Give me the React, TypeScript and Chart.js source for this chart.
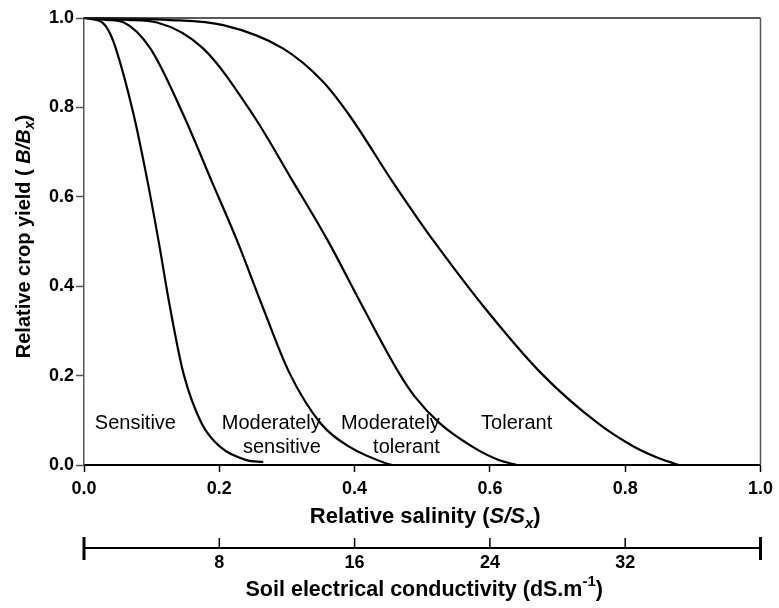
import React, { useEffect, useRef } from "react";
import { Chart, registerables } from "chart.js";

Chart.register(...registerables);

// ---- Data ----
const sensitiveX = [0, 0.01, 0.027, 0.037, 0.047, 0.0735, 0.094, 0.11, 0.127, 0.147, 0.174, 0.201, 0.24, 0.265];
const sensitiveY = [1, 0.998, 0.99, 0.97, 0.932, 0.783, 0.634, 0.503, 0.354, 0.205, 0.093, 0.041, 0.011, 0.007];

const modSensitiveX = [0, 0.034, 0.059, 0.098, 0.147, 0.189, 0.226, 0.264, 0.304, 0.35, 0.392, 0.446, 0.456];
const modSensitiveY = [1, 0.996, 0.99, 0.932, 0.783, 0.634, 0.503, 0.354, 0.205, 0.093, 0.041, 0.004, 0];

const modTolerantX = [0, 0.064, 0.108, 0.176, 0.25, 0.309, 0.36, 0.412, 0.466, 0.489, 0.526, 0.574, 0.613, 0.64];
const modTolerantY = [1, 0.996, 0.99, 0.932, 0.783, 0.634, 0.503, 0.354, 0.205, 0.153, 0.093, 0.041, 0.011, 0];

const tolerantX = [0, 0.123, 0.206, 0.294, 0.353, 0.392, 0.456, 0.493, 0.516, 0.591, 0.676, 0.76, 0.813, 0.857, 0.88];
const tolerantY = [1, 0.996, 0.984, 0.932, 0.858, 0.783, 0.634, 0.552, 0.503, 0.354, 0.205, 0.093, 0.041, 0.011, 0];

const xTickStep = 0.2;
const yTickStep = 0.2;
const ecMin = 0;
const ecMax = 40;
const ecTicks = [8, 16, 24, 32];

type Run = { t: string; i?: boolean; sub?: boolean; sup?: boolean };

const yTitleRuns: Run[] = [
  { t: "Relative crop yield ( " },
  { t: "B/B", i: true },
  { t: "x", i: true, sub: true },
  { t: ")" },
];
const xTitleRuns: Run[] = [
  { t: "Relative salinity (" },
  { t: "S/S", i: true },
  { t: "x", i: true, sub: true },
  { t: ")" },
];
const ecTitleRuns: Run[] = [
  { t: "Soil electrical conductivity (dS.m" },
  { t: "-1", sup: true },
  { t: ")" },
];

// Category labels, anchored in data coordinates
const curveLabels = [
  { text: "Sensitive", x: 0.016, y: 0.093, align: "left" },
  { text: "Moderately", x: 0.35, y: 0.093, align: "right" },
  { text: "sensitive", x: 0.35, y: 0.039, align: "right" },
  { text: "Moderately", x: 0.526, y: 0.093, align: "right" },
  { text: "tolerant", x: 0.526, y: 0.039, align: "right" },
  { text: "Tolerant", x: 0.587, y: 0.093, align: "left" },
];

const FONT = "'Liberation Sans', Arial, Helvetica, sans-serif";

function zip(xs: number[], ys: number[]) {
  return xs.map((x, i) => ({ x, y: ys[i] }));
}

function drawRich(
  ctx: CanvasRenderingContext2D,
  runs: Run[],
  cx: number,
  cy: number,
  size: number,
  rotate: boolean
) {
  ctx.save();
  ctx.translate(cx, cy);
  if (rotate) ctx.rotate(-Math.PI / 2);
  const fontFor = (r: Run) =>
    `${r.i ? "italic " : ""}bold ${r.sub || r.sup ? Math.round(size * 0.68) : size}px ${FONT}`;
  let total = 0;
  const widths = runs.map((r) => {
    ctx.font = fontFor(r);
    const w = ctx.measureText(r.t).width;
    total += w;
    return w;
  });
  let x = -total / 2;
  ctx.textBaseline = "middle";
  ctx.textAlign = "left";
  ctx.fillStyle = "#000";
  runs.forEach((r, k) => {
    ctx.font = fontFor(r);
    const dy = r.sub ? size * 0.32 : r.sup ? -size * 0.38 : 0;
    ctx.fillText(r.t, x, dy);
    x += widths[k];
  });
  ctx.restore();
}

const decorPlugin = {
  id: "decor",
  afterDraw(chart: any) {
    const ctx: CanvasRenderingContext2D = chart.ctx;
    const { left, right, top, bottom } = chart.chartArea;
    const xs = chart.scales.x;
    const ys = chart.scales.y;
    const es = chart.scales.x2;

    // frame top and right
    ctx.save();
    ctx.lineWidth = 1.5;
    ctx.strokeStyle = "#222";
    ctx.beginPath();
    ctx.moveTo(left, top);
    ctx.lineTo(right, top);
    ctx.stroke();
    ctx.strokeStyle = "#555";
    ctx.beginPath();
    ctx.moveTo(right, top);
    ctx.lineTo(right, bottom);
    ctx.stroke();
    ctx.restore();

    // curve labels
    ctx.save();
    ctx.font = `20px ${FONT}`;
    ctx.fillStyle = "#000";
    ctx.textBaseline = "middle";
    curveLabels.forEach((l) => {
      ctx.textAlign = l.align as CanvasTextAlign;
      ctx.fillText(l.text, xs.getPixelForValue(l.x), ys.getPixelForValue(l.y));
    });
    ctx.restore();

    // secondary (EC) axis line, end caps and ticks
    const ly = es.top + 23;
    ctx.save();
    ctx.strokeStyle = "#000";
    ctx.lineWidth = 2;
    ctx.beginPath();
    ctx.moveTo(es.getPixelForValue(ecMin), ly);
    ctx.lineTo(es.getPixelForValue(ecMax), ly);
    ctx.stroke();
    ctx.lineWidth = 3;
    [ecMin, ecMax].forEach((v) => {
      const px = es.getPixelForValue(v);
      ctx.beginPath();
      ctx.moveTo(px, ly - 11);
      ctx.lineTo(px, ly + 12);
      ctx.stroke();
    });
    ctx.lineWidth = 1.5;
    es.ticks.forEach((t: any) => {
      const px = es.getPixelForValue(t.value);
      ctx.beginPath();
      ctx.moveTo(px, ly - 10);
      ctx.lineTo(px, ly);
      ctx.stroke();
    });
    ctx.restore();

    // axis titles
    drawRich(ctx, yTitleRuns, 24, (top + bottom) / 2 - 5, 20, true);
    drawRich(ctx, xTitleRuns, (left + right) / 2 + 3, xs.top + 52, 22, false);
    drawRich(ctx, ecTitleRuns, (left + right) / 2 + 2, es.top + 65, 21.5, false);
  },
};

export default function App() {
  const ref = useRef<HTMLCanvasElement | null>(null);
  useEffect(() => {
    if (!ref.current) return;
    const mk = (xs: number[], ys: number[]) => ({
      data: zip(xs, ys),
      borderColor: "#000",
      borderWidth: 2.2,
      pointRadius: 0,
      fill: false,
      cubicInterpolationMode: "monotone" as const,
      clip: false as any,
      xAxisID: "x",
      yAxisID: "y",
    });
    const chart = new Chart(ref.current, {
      type: "line",
      data: {
        datasets: [
          { label: "Sensitive", ...mk(sensitiveX, sensitiveY) },
          { label: "Moderately sensitive", ...mk(modSensitiveX, modSensitiveY) },
          { label: "Moderately tolerant", ...mk(modTolerantX, modTolerantY) },
          { label: "Tolerant", ...mk(tolerantX, tolerantY) },
        ],
      },
      options: {
        animation: false,
        responsive: true,
        maintainAspectRatio: false,
        devicePixelRatio: 1,
        layout: { padding: { top: 18, right: 15, left: 0, bottom: 0 } },
        plugins: { legend: { display: false }, tooltip: { enabled: false } },
        scales: {
          x: {
            type: "linear",
            position: "bottom",
            min: 0,
            max: 1,
            weight: 0,
            ticks: {
              stepSize: xTickStep,
              padding: 6,
              color: "#000",
              font: { family: FONT, size: 18, weight: "bold" },
              callback: (v: any) => Number(v).toFixed(1),
            },
            grid: { drawOnChartArea: false, tickLength: 7, tickColor: "#000", tickWidth: 1.5 },
            border: { color: "#000", width: 2 },
            afterFit: (s: any) => {
              s.height = 60;
            },
          },
          x2: {
            type: "linear",
            position: "bottom",
            min: ecMin,
            max: ecMax,
            weight: 1,
            afterBuildTicks: (s: any) => {
              s.ticks = ecTicks.map((v) => ({ value: v }));
            },
            ticks: {
              padding: 27,
              color: "#000",
              font: { family: FONT, size: 18, weight: "bold" },
            },
            grid: { display: false, drawTicks: false },
            border: { display: false },
            afterFit: (s: any) => {
              s.height = 83;
            },
          },
          y: {
            type: "linear",
            min: 0,
            max: 1,
            ticks: {
              stepSize: yTickStep,
              padding: 2,
              color: "#000",
              font: { family: FONT, size: 18, weight: "bold" },
              callback: (v: any) => Number(v).toFixed(1),
            },
            grid: { drawOnChartArea: false, tickLength: 8, tickColor: "#555", tickWidth: 1.5 },
            border: { color: "#555", width: 1.5 },
            afterFit: (s: any) => {
              s.width = 84;
            },
          },
        },
      } as any,
      plugins: [decorPlugin],
    });
    return () => chart.destroy();
  }, []);
  return (
    <div style={{ position: "fixed", left: 0, top: 0, width: 779, height: 608, background: "#fff" }}>
      <canvas ref={ref} />
    </div>
  );
}
